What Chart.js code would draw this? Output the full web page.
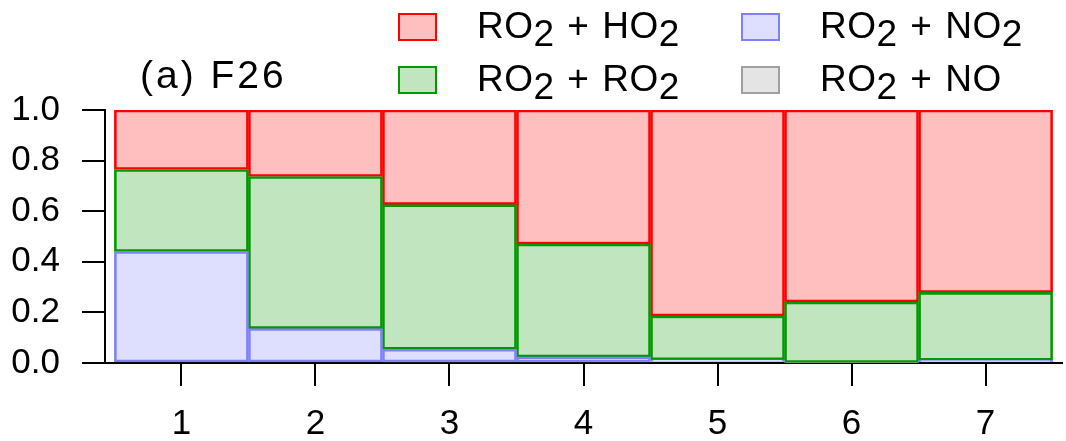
<!DOCTYPE html>
<html>
<head>
<meta charset="utf-8">
<title>F26</title>
<script src="https://cdn.jsdelivr.net/npm/chart.js@4.4.1/dist/chart.umd.min.js"></script>
<style>
  html, body { margin: 0; padding: 0; background: #fff; }
  #wrap { position: relative; width: 1066px; height: 441px; font-family: "Liberation Sans", Arial, sans-serif; color: #000; }
  #wrap canvas { position: absolute; left: 0; top: 0; }
  .title { position: absolute; left: 140px; top: 55px; font-size: 39px; line-height: 1; letter-spacing: 3px; white-space: nowrap; }
  .lg-item { position: absolute; font-size: 37px; line-height: 1; white-space: nowrap; letter-spacing: 0.5px; word-spacing: 2px; }
  .lg-box { position: absolute; width: 35px; height: 24px; box-sizing: content-box; border-width: 2px; border-style: solid; }
  .sub { position: relative; top: 8px; }
</style>
</head>
<body>
<div id="wrap">
  <canvas id="chart" width="1066" height="441"></canvas>
  <div class="title">(a) F26</div>
  <div id="legend"></div>
</div>
<script>
// bins 1..7, fractions of RO2 loss by each reaction partner
const categories = [1, 2, 3, 4, 5, 6, 7];
const ro2NO  = [0.000, 0.000, 0.004, 0.004, 0.006, 0.002, 0.000];
const ro2NO2 = [0.441, 0.136, 0.050, 0.020, 0.007, 0.000, 0.011];
const ro2RO2 = [0.324, 0.601, 0.572, 0.446, 0.173, 0.239, 0.268];
const ro2HO2 = [0.235, 0.263, 0.374, 0.530, 0.814, 0.759, 0.721];
const yTicks = [0, 0.2, 0.4, 0.6, 0.8, 1.0];

const series = [
  { label: 'RO2 + NO',  data: ro2NO,  fill: '#e4e4e4', line: '#a0a0a0' },
  { label: 'RO2 + NO2', data: ro2NO2, fill: '#dedeff', line: '#8080ff' },
  { label: 'RO2 + RO2', data: ro2RO2, fill: '#c1e5bf', line: '#009900' },
  { label: 'RO2 + HO2', data: ro2HO2, fill: '#ffbfbf', line: '#ff0000' },
];
// legend is laid out in rows: HO2, NO2 / RO2, NO
const legendOrder = [3, 1, 2, 0];
const legendCols = [398, 741];
const legendRows = [13, 66];

const font = { family: "'Liberation Sans', Arial, sans-serif", size: 35 };

const chart = new Chart(document.getElementById('chart'), {
  type: 'bar',
  data: {
    labels: categories,
    datasets: series.map(s => ({
      label: s.label,
      data: s.data,
      backgroundColor: s.fill,
      borderColor: s.line,
      borderWidth: 2.6,
      borderSkipped: false,
      barPercentage: 1,
      categoryPercentage: 1,
    }))
  },
  options: {
    responsive: false,
    animation: false,
    layout: { padding: { top: 110, right: 4, left: 0, bottom: 0 } },
    plugins: { legend: { display: false }, tooltip: { enabled: false } },
    scales: {
      x: {
        type: 'linear',
        stacked: true,
        offset: false,
        min: 0.43,
        max: 7.57,
        afterBuildTicks: (s) => { s.ticks = categories.map(v => ({ value: v })); },
        afterFit: (s) => { s.height = 78; },
        grid: { offset: false, drawOnChartArea: false, drawTicks: true, tickLength: 23, color: '#000', lineWidth: 2 },
        border: { color: '#000', width: 2 },
        ticks: { color: '#000', font, padding: 17, maxRotation: 0, callback: (v) => String(v) },
      },
      y: {
        stacked: true,
        min: 0,
        max: 1,
        afterBuildTicks: (s) => { s.ticks = yTicks.map(v => ({ value: v })); },
        afterFit: (s) => { s.width = 105; },
        grid: { drawOnChartArea: false, drawTicks: true, tickLength: 23, color: '#000', lineWidth: 2 },
        border: { color: '#000', width: 2 },
        ticks: { color: '#000', font, padding: 22, callback: (v) => v.toFixed(1) },
      }
    }
  }
});

// html legend so the "2"s can sit low like subscripts
function buildLegend() {
  const box = document.getElementById('legend');
  legendOrder.forEach((idx, i) => {
    const ds = chart.data.datasets[idx];
    const left = legendCols[i % 2];
    const top = legendRows[Math.floor(i / 2)];
    const sw = document.createElement('div');
    sw.className = 'lg-box';
    sw.style.left = left + 'px';
    sw.style.top = top + 'px';
    sw.style.background = ds.backgroundColor;
    sw.style.borderColor = ds.borderColor;
    box.appendChild(sw);

    const txt = document.createElement('div');
    txt.className = 'lg-item';
    txt.style.left = (left + 79) + 'px';
    txt.style.top = (top - 6) + 'px';
    txt.innerHTML = ds.label.replace(/2/g, '<span class="sub">2</span>');
    box.appendChild(txt);
  });
}
buildLegend();
</script>
</body>
</html>
